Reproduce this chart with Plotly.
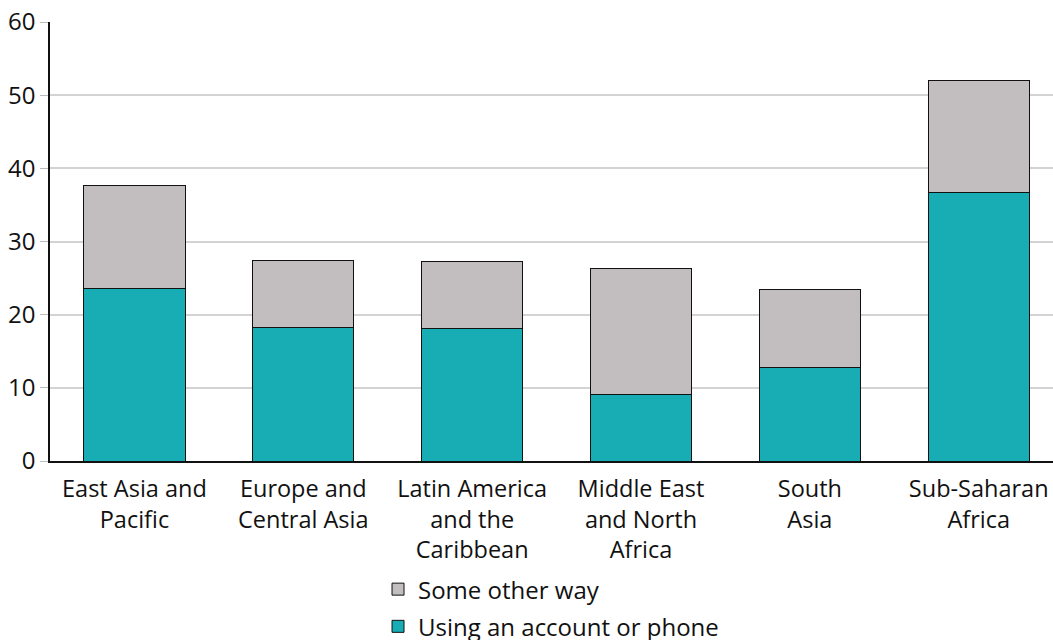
import plotly.graph_objects as go

categories = ["East Asia and<br>Pacific", "Europe and<br>Central Asia", "Latin America<br>and the<br>Caribbean",
              "Middle East<br>and North<br>Africa", "South<br>Asia", "Sub-Saharan<br>Africa"]
account_phone = [23.6, 18.3, 18.1, 9.1, 12.8, 36.7]
other_way = [14.1, 9.1, 9.1, 17.2, 10.6, 15.3]
y_ticks = [0, 10, 20, 30, 40, 50, 60]

fig = go.Figure()
fig.add_trace(go.Bar(x=categories, y=account_phone, name="Using an account or phone", legendgroup="a",
                     legendrank=2,
                     marker=dict(color="#18adb5", line=dict(color="#111111", width=1)), width=0.6))
fig.add_trace(go.Bar(x=categories, y=other_way, name="Some other way", legendgroup="b",
                     legendrank=1,
                     marker=dict(color="#c2bebf", line=dict(color="#111111", width=1)), width=0.6))

fig.update_layout(
    barmode="stack",
    width=1053, height=640,
    margin=dict(l=50, r=0, t=22, b=179, autoexpand=False),
    plot_bgcolor="white", paper_bgcolor="white",
    font=dict(family="Open Sans", size=24, color="#111111"),
    showlegend=True,
    legend=dict(orientation="v", traceorder="grouped", xref="container", x=0.359, xanchor="left",
                yref="container", y=0.114, yanchor="top", font=dict(size=24),
                tracegroupgap=3, bgcolor="rgba(0,0,0,0)"),
)
fig.update_xaxes(range=[-0.5, 5.44], showline=True, linecolor="#111111", linewidth=1.5,
                 ticks="", tickfont=dict(size=23.5), automargin=False, ticklabeloverflow="allow",
                 ticklabelstandoff=6)
fig.update_yaxes(range=[0, 60], tickvals=y_ticks, showgrid=True, gridcolor="#d3d3d3", gridwidth=1.5,
                 showline=True, linecolor="#111111", linewidth=1.5, ticks="outside", ticklen=8,
                 tickcolor="#bbbbbb", tickfont=dict(size=24), zeroline=False, automargin=False,
                 ticklabeloverflow="allow")

fig.write_html("out.html", config={"displayModeBar": False},
               post_script="document.body.style.margin='0';document.body.style.overflow='hidden';")
